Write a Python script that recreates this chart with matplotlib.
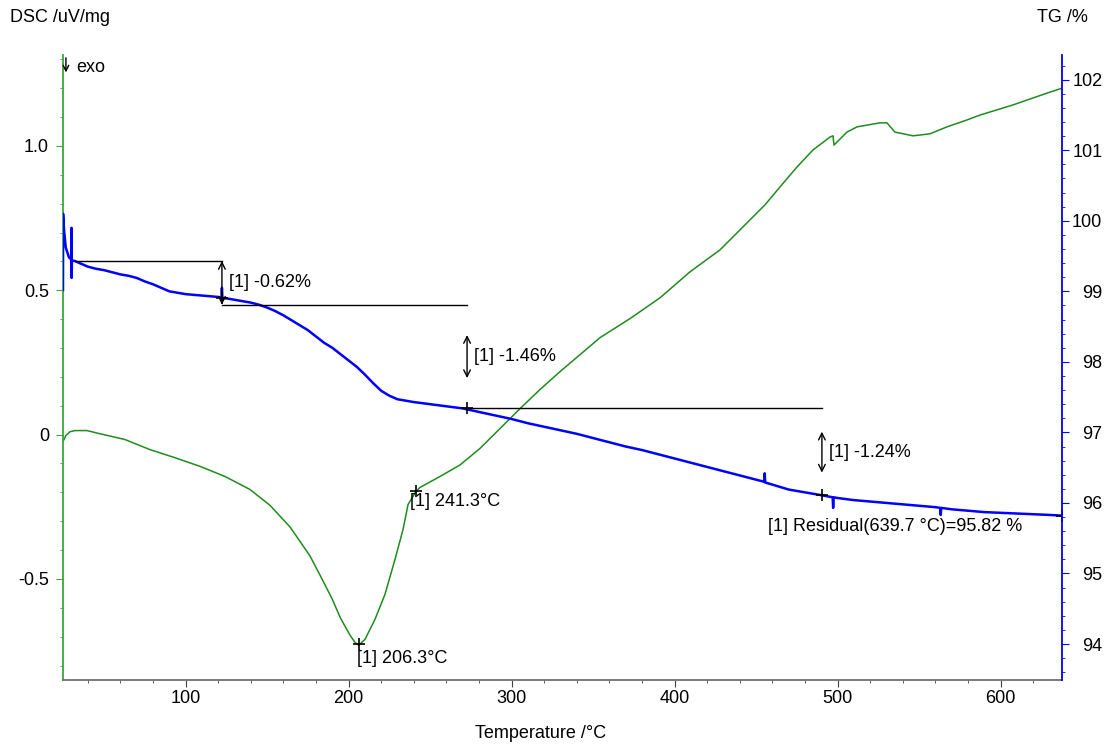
import matplotlib
matplotlib.use('Agg')
import matplotlib.pyplot as plt
from matplotlib.ticker import MultipleLocator, FuncFormatter

plt.rcParams['font.family'] = ['Liberation Sans', 'DejaVu Sans']

# ---------------- data ----------------
dsc_temp = [24.8, 26.6, 29.1, 32.2, 39.5, 47.5, 62.8, 78.2, 93.5, 108.9, 124.2, 139.5,
            151.8, 164.1, 176.3, 183.7, 190.0, 195.0, 200.9, 204.0, 206.3, 210.1, 216.2,
            222.3, 228.5, 233.4, 236.5, 241.3, 243.8, 256.1, 268.4, 280.6, 292.9, 305.2,
            317.4, 329.7, 342.0, 354.3, 372.7, 391.1, 409.5, 427.9, 446.3, 455.5, 464.7,
            475.1, 484.9, 495.4, 497.2, 497.8, 505.8, 511.9, 526.0, 530.3, 535.2, 546.3,
            556.7, 567.1, 579.4, 587.4, 607.6, 628.5, 637.7]
dsc_val = [-0.024, -0.003, 0.010, 0.014, 0.014, 0.003, -0.017, -0.052, -0.080, -0.110,
           -0.145, -0.190, -0.245, -0.320, -0.420, -0.500, -0.570, -0.635, -0.695, -0.720,
           -0.730, -0.709, -0.640, -0.554, -0.432, -0.329, -0.242, -0.197, -0.183, -0.145,
           -0.105, -0.048, 0.021, 0.090, 0.156, 0.218, 0.277, 0.336, 0.402, 0.474, 0.564,
           0.640, 0.744, 0.796, 0.858, 0.927, 0.986, 1.031, 1.035, 1.003, 1.048, 1.066,
           1.080, 1.080, 1.048, 1.035, 1.042, 1.066, 1.090, 1.107, 1.142, 1.183, 1.200]

tg_temp = [24.8, 24.85, 25.5, 26.5, 27.5, 28.5, 29.5, 29.9, 30.0, 30.1, 30.3, 32, 35, 40,
           45, 50, 55, 60, 65, 70, 75, 80, 85, 90, 95, 100, 105, 110, 115, 120, 122, 122.3,
           122.6, 125, 130, 135, 140, 145, 150, 155, 160, 165, 170, 175, 180, 185, 190,
           195, 200, 205, 210, 215, 220, 225, 230, 240, 250, 260, 270, 280, 290, 300, 310,
           320, 330, 340, 350, 360, 370, 380, 390, 400, 410, 420, 430, 440, 450, 455,
           455.3, 455.6, 460, 470, 480, 490, 497, 497.3, 497.6, 500, 510, 520, 530, 540,
           550, 560, 563, 563.3, 563.6, 570, 580, 590, 600, 610, 620, 630, 637.7]
tg_val = [99.02, 100.10, 99.85, 99.62, 99.55, 99.48, 99.46, 99.45, 99.90, 99.19, 99.44,
          99.43, 99.40, 99.35, 99.32, 99.30, 99.27, 99.24, 99.22, 99.19, 99.14, 99.10,
          99.05, 99.00, 98.98, 98.96, 98.95, 98.94, 98.93, 98.92, 98.91, 99.05, 98.90,
          98.90, 98.88, 98.86, 98.84, 98.81, 98.77, 98.72, 98.66, 98.59, 98.52, 98.45,
          98.36, 98.27, 98.20, 98.11, 98.02, 97.93, 97.82, 97.70, 97.59, 97.52, 97.47,
          97.43, 97.40, 97.37, 97.34, 97.29, 97.24, 97.19, 97.13, 97.08, 97.03, 96.98,
          96.92, 96.86, 96.80, 96.75, 96.69, 96.63, 96.57, 96.51, 96.45, 96.39, 96.33,
          96.30, 96.42, 96.29, 96.26, 96.19, 96.15, 96.11, 96.08, 95.93, 96.08, 96.07,
          96.04, 96.02, 96.00, 95.98, 95.96, 95.94, 95.93, 95.83, 95.93, 95.91, 95.89,
          95.87, 95.86, 95.85, 95.84, 95.83, 95.82]

step_levels = [99.43, 98.81, 97.35, 96.11]
step_temps = [32.0, 122.3, 272.7, 490.4]
step_labels = ['[1] -0.62%', '[1] -1.46%', '[1] -1.24%']
peak_temps = [206.3, 241.3]
peak_vals = [-0.727, -0.197]
peak_labels = ['[1] 206.3°C', '[1] 241.3°C']
residual_temp = 637.7
residual_val = 95.82
residual_label = '[1] Residual(639.7 °C)=95.82 %'

# ---------------- figure ----------------
W, H = 1109, 744
fig = plt.figure(figsize=(W / 100, H / 100), dpi=100)
L, R, B, T = 63, 1062, 680, 55
ax = fig.add_axes([L / W, 1 - B / H, (R - L) / W, (B - T) / H])
ax2 = ax.twinx()

FS = 13
green_line = '#1e8c1e'
green_spine = '#3aa63a'
blue = '#0000ff'

ax.plot(dsc_temp, dsc_val, color=green_line, lw=1.1)
ax2.plot(tg_temp, tg_val, color=blue, lw=1.8)

ax.set_xlim(24.8, 637.7)
ax.set_ylim(-0.85, 1.315)
ax2.set_ylim(93.49, 102.35)

for a in (ax, ax2):
    a.spines['top'].set_visible(False)
ax.spines['right'].set_visible(False)
ax2.spines['left'].set_visible(False)
ax2.spines['bottom'].set_visible(False)
ax.spines['left'].set_color(green_spine)
ax.spines['left'].set_linewidth(1.3)
ax2.spines['right'].set_color(blue)
ax2.spines['right'].set_linewidth(1.3)
ax.spines['bottom'].set_color('#707070')
ax.spines['bottom'].set_linewidth(1.3)

ax.xaxis.set_major_locator(MultipleLocator(100))
ax.xaxis.set_minor_locator(MultipleLocator(20))
ax.yaxis.set_major_locator(MultipleLocator(0.5))
ax.yaxis.set_minor_locator(MultipleLocator(0.1))
ax2.yaxis.set_major_locator(MultipleLocator(1))
ax2.yaxis.set_minor_locator(MultipleLocator(0.2))

ax.tick_params(axis='x', which='major', length=5, color='#404040', labelsize=FS, pad=2)
ax.tick_params(axis='x', which='minor', length=2.5, color='#404040')
ax.tick_params(axis='y', which='major', length=5, color=green_spine, labelsize=FS, pad=5)
ax.tick_params(axis='y', which='minor', length=2.5, color=green_spine)
ax2.tick_params(axis='y', which='major', length=5, color=blue, labelsize=FS, pad=24)
ax2.tick_params(axis='y', which='minor', length=2.5, color=blue)

ax.yaxis.set_major_formatter(FuncFormatter(
    lambda v, p: '0' if abs(v) < 1e-9 else f'{v:.1f}'))
ax2.yaxis.set_major_formatter(FuncFormatter(lambda v, p: f'{v:.0f}'))
for lab in ax2.get_yticklabels():
    lab.set_horizontalalignment('right')

# axis titles
fig.text(10 / W, 1 - 18 / H, 'DSC /uV/mg', fontsize=FS, va='center', ha='left')
fig.text(1088 / W, 1 - 18 / H, 'TG /%', fontsize=FS, va='center', ha='right')
fig.text(541 / W, 1 - 733 / H, 'Temperature /°C', fontsize=FS, va='center', ha='center')

# exo marker
ax.annotate('', xy=(26.6, 1.245), xytext=(26.6, 1.315),
            arrowprops=dict(arrowstyle='->', color='black', lw=1.0))
ax.text(33, 1.272, 'exo', fontsize=FS, va='center', ha='left')

# step annotations (TG)
k = 'black'
ax2.plot([step_temps[0], step_temps[1]], [step_levels[0]] * 2, color=k, lw=1.0)
ax2.plot([step_temps[1], step_temps[2]], [step_levels[1]] * 2, color=k, lw=1.0)
ax2.plot([step_temps[2], step_temps[3]], [step_levels[2]] * 2, color=k, lw=1.0)
arrow_spans = [(step_levels[0], step_levels[1]), (98.38, 97.77), (97.01, 96.43)]
for tx, (y0, y1), lab in zip(step_temps[1:], arrow_spans, step_labels):
    ax2.annotate('', xy=(tx, y1), xytext=(tx, y0),
                 arrowprops=dict(arrowstyle='<->', color=k, lw=1.0,
                                 shrinkA=0, shrinkB=0, mutation_scale=12))
    ax2.text(tx + 4.5, (y0 + y1) / 2, lab, fontsize=FS, va='center', ha='left')

# crosses on TG curve
cross_t = [122.3, 272.7, 490.4, residual_temp]
cross_v = [98.91, 97.35, 96.11, residual_val]
ax2.plot(cross_t, cross_v, '+', color=k, ms=9, mew=1.2)
ax2.text(457.3, 95.66, residual_label, fontsize=FS, va='center', ha='left')

# DSC peak markers
ax.plot(peak_temps, peak_vals, '+', color=k, ms=9, mew=1.2)
ax.text(peak_temps[0] - 1, peak_vals[0] - 0.05, peak_labels[0], fontsize=FS,
        va='center', ha='left')
ax.text(peak_temps[1] - 3.5, peak_vals[1] - 0.033, peak_labels[1], fontsize=FS,
        va='center', ha='left')

fig.savefig('out.png', dpi=100, facecolor='white')
